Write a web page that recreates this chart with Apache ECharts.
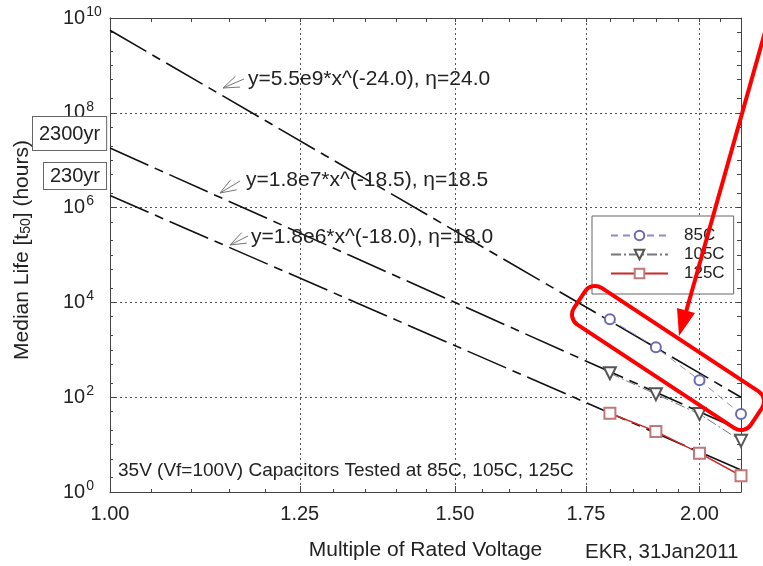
<!DOCTYPE html>
<html><head><meta charset="utf-8">
<script src="https://cdn.jsdelivr.net/npm/echarts@6/dist/echarts.min.js"></script>
<style>html,body{margin:0;padding:0;background:#fff}#c{width:763px;height:566px}</style>
</head><body><div id="c"></div>
<script>
// ---- data ----
const voltageX = [1.8, 1.9, 2.0, 2.1];
const life85C = [4400, 1130, 228, 44];
const life105C = [320, 116, 44, 12];
const life125C = [46, 19, 6.6, 2.2];
const fitX = [1.0, 2.1];
const fit85C = [5.5e9, 100];
const fit105C = [1.8e7, 20];
const fit125C = [1.8e6, 2.9];
const fitLabels = ['y=5.5e9*x^(-24.0), η=24.0', 'y=1.8e7*x^(-18.5), η=18.5', 'y=1.8e6*x^(-18.0), η=18.0'];
const seriesNames = ['85C', '105C', '125C'];
const xMajorTicks = [1.0, 1.25, 1.5, 1.75, 2.0];
const xMinorTicks = [1.05, 1.1, 1.15, 1.2, 1.3, 1.35, 1.4, 1.45, 1.55, 1.6, 1.65, 1.7, 1.8, 1.85, 1.9, 1.95, 2.05];
const yMajorTicks = [1, 1e2, 1e4, 1e6, 1e8, 1e10];
const yMinorTicks = [2, 5, 10, 20, 50, 200, 500, 1e3, 2e3, 5e3, 2e4, 5e4, 1e5, 2e5, 5e5, 2e6, 5e6, 1e7, 2e7, 5e7, 2e8, 5e8, 1e9, 2e9, 5e9];
const yearBoxes = ['2300yr', '230yr'];
const noteText = '35V (Vf=100V) Capacitors Tested at 85C, 105C, 125C';
const creditText = 'EKR, 31Jan2011';

const FF = '"Liberation Sans", Arial, sans-serif';
const chart = echarts.init(document.getElementById('c'), null, {renderer: 'canvas'});
const pairs = (xs, ys) => xs.map((x, i) => [x, ys[i]]);

function hiddenAxis(base) {
  return Object.assign({
    axisLine: {show: false}, axisLabel: {show: false}, splitLine: {show: false}
  }, base);
}
const axisCol = '#444';
const xBase = {type: 'log', logBase: 10, min: 1, max: 2.1, gridIndex: 0};
const yBase = {type: 'log', logBase: 10, min: 1, max: 1e10, gridIndex: 0};

function arrowLines(tip, tail) {
  const ang = Math.atan2(tail[1] - tip[1], tail[0] - tip[0]);
  const out = [{type: 'line', z: 10, shape: {x1: tip[0], y1: tip[1], x2: tail[0], y2: tail[1]}, style: {stroke: '#777', lineWidth: 1}}];
  [-0.35, 0.35].forEach(d => {
    out.push({type: 'line', z: 10, shape: {x1: tip[0], y1: tip[1], x2: tip[0] + 17 * Math.cos(ang + d), y2: tip[1] + 17 * Math.sin(ang + d)}, style: {stroke: '#777', lineWidth: 1}});
  });
  return out;
}

const fitTextPos = [[248, 79, [223, 88], [244, 79]], [246, 180, [220, 193], [240, 181]], [251, 237, [230, 245], [248, 236]]];
const graphics = [];
fitLabels.forEach((t, i) => {
  const p = fitTextPos[i];
  graphics.push({type: 'text', z: 10, x: p[0], y: p[1], style: {text: t, font: '21px ' + FF, fill: '#222', verticalAlign: 'middle'}});
  arrowLines(p[2], p[3]).forEach(g => graphics.push(g));
});
graphics.push({type: 'text', z: 10, x: 33, y: 117, style: {text: yearBoxes[0], font: '20px ' + FF, fill: '#222', backgroundColor: '#fff', borderColor: '#666', borderWidth: 1, padding: [7, 6, 6, 6]}});
graphics.push({type: 'text', z: 10, x: 44, y: 163, style: {text: yearBoxes[1], font: '20px ' + FF, fill: '#222', backgroundColor: '#fff', borderColor: '#666', borderWidth: 1, padding: [3, 6, 3, 6]}});
graphics.push({type: 'text', z: 10, x: 118, y: 471, style: {text: noteText, font: '19px ' + FF, fill: '#222', verticalAlign: 'middle'}});
graphics.push({type: 'text', z: 10, x: 585, y: 552, style: {text: creditText, font: '20.5px ' + FF, fill: '#222', verticalAlign: 'middle'}});
// red highlight annotation
graphics.push({type: 'rect', z: 30, x: 668, y: 358, rotation: -0.583, shape: {x: -106, y: -22, width: 212, height: 44, r: 12}, style: {fill: 'none', stroke: '#ff0000', lineWidth: 4}});
graphics.push({type: 'line', z: 30, shape: {x1: 767, y1: 25, x2: 686, y2: 312}, style: {stroke: '#ff0000', lineWidth: 4}});
graphics.push({type: 'polygon', z: 30, shape: {points: [[679, 336], [695, 313], [677, 308]]}, style: {fill: '#ff0000'}});

const option = {
  backgroundColor: '#fff',
  animation: false,
  textStyle: {fontFamily: FF},
  grid: {left: 110, top: 18, width: 631, height: 475, containLabel: false},
  legend: {
    data: seriesNames, left: 592, top: 216, orient: 'vertical',
    backgroundColor: '#fff', borderColor: '#666', borderWidth: 1,
    padding: [11, 9, 12, 18], itemWidth: 57, itemHeight: 12, itemGap: 2,
    textStyle: {fontSize: 17, color: '#222', fontFamily: FF, padding: [0, 0, 0, 11]}
  },
  xAxis: [
    Object.assign({}, xBase, {
      position: 'bottom',
      axisLine: {show: true, lineStyle: {color: axisCol, width: 1}},
      axisTick: {show: true, inside: true, length: 6, customValues: xMajorTicks, lineStyle: {color: axisCol}},
      axisLabel: {customValues: xMajorTicks, formatter: v => Number(v).toFixed(2), fontSize: 20, color: '#222', margin: 12, fontFamily: FF},
      splitLine: {show: true, lineStyle: {type: [2, 3], color: '#555', width: 1}},
      name: 'Multiple of Rated Voltage', nameLocation: 'middle', nameGap: 48,
      nameTextStyle: {fontSize: 21, color: '#222', fontFamily: FF}
    }),
    hiddenAxis(Object.assign({}, xBase, {position: 'bottom', axisTick: {show: true, inside: true, length: 3, customValues: xMinorTicks, lineStyle: {color: axisCol}}})),
    Object.assign({}, xBase, {
      position: 'top',
      axisLine: {show: true, lineStyle: {color: axisCol, width: 1}},
      axisTick: {show: true, inside: true, length: 4, customValues: xMajorTicks.concat(xMinorTicks), lineStyle: {color: axisCol}},
      axisLabel: {show: false}, splitLine: {show: false}
    })
  ],
  yAxis: [
    Object.assign({}, yBase, {
      position: 'left',
      axisLine: {show: true, lineStyle: {color: axisCol, width: 1}},
      axisTick: {show: true, inside: true, length: 6, customValues: yMajorTicks, lineStyle: {color: axisCol}},
      axisLabel: {
        customValues: yMajorTicks, align: 'left', margin: 47, color: '#222',
        formatter: v => '{b|10}{s|' + Math.round(Math.log10(v)) + '}',
        rich: {b: {fontSize: 20, fontFamily: FF, color: '#222', lineHeight: 20}, s: {fontSize: 14, fontFamily: FF, color: '#222', padding: [0, 0, 12, 1], lineHeight: 14}}
      },
      splitLine: {show: true, lineStyle: {type: [2, 3], color: '#555', width: 1}},
      name: '{a|Median Life [t}{u|50}{a|] (hours)}', nameLocation: 'middle', nameGap: 77,
      nameTextStyle: {padding: [0, 0, 0, 10], rich: {a: {fontSize: 21, fontFamily: FF, color: '#222', lineHeight: 22}, u: {fontSize: 14, fontFamily: FF, color: '#222', lineHeight: 14, padding: [9, 0, 0, 0]}}}
    }),
    hiddenAxis(Object.assign({}, yBase, {position: 'left', axisTick: {show: true, inside: true, length: 3, customValues: yMinorTicks, lineStyle: {color: axisCol}}})),
    Object.assign({}, yBase, {
      position: 'right',
      axisLine: {show: true, lineStyle: {color: axisCol, width: 1}},
      axisTick: {show: true, inside: true, length: 4, customValues: yMajorTicks.concat(yMinorTicks), lineStyle: {color: axisCol}},
      axisLabel: {show: false}, splitLine: {show: false}
    })
  ],
  graphic: graphics,
  series: [
    {name: 'fit85', type: 'line', data: pairs(fitX, fit85C), symbol: 'none', silent: true, z: 2, lineStyle: {color: '#111', width: 1.6, type: [42, 7, 9, 7]}},
    {name: 'fit105', type: 'line', data: pairs(fitX, fit105C), symbol: 'none', silent: true, z: 2, lineStyle: {color: '#111', width: 1.6, type: [42, 7, 9, 7]}},
    {name: 'fit125', type: 'line', data: pairs(fitX, fit125C), symbol: 'none', silent: true, z: 2, lineStyle: {color: '#111', width: 1.6, type: [42, 7, 9, 7]}},
    {name: seriesNames[0], type: 'line', data: pairs(voltageX, life85C), z: 3, symbol: 'emptyCircle', symbolSize: 10,
      itemStyle: {color: '#6a6ab0', borderWidth: 1}, lineStyle: {color: '#8c8cc8', width: 1, type: [7, 5]}},
    {name: seriesNames[1], type: 'line', data: pairs(voltageX, life105C), z: 3, symbol: 'emptyTriangle', symbolRotate: 180, symbolSize: 12,
      itemStyle: {color: '#555', borderWidth: 1}, lineStyle: {color: '#777', width: 1, type: [10, 3, 2, 3]}},
    {name: seriesNames[2], type: 'line', data: pairs(voltageX, life125C), z: 3, symbol: 'emptyRect', symbolSize: 11,
      itemStyle: {color: '#c07878', borderWidth: 1}, lineStyle: {color: '#cc2a2a', width: 1.5}}
  ]
};
chart.setOption(option);
</script>
</body></html>
